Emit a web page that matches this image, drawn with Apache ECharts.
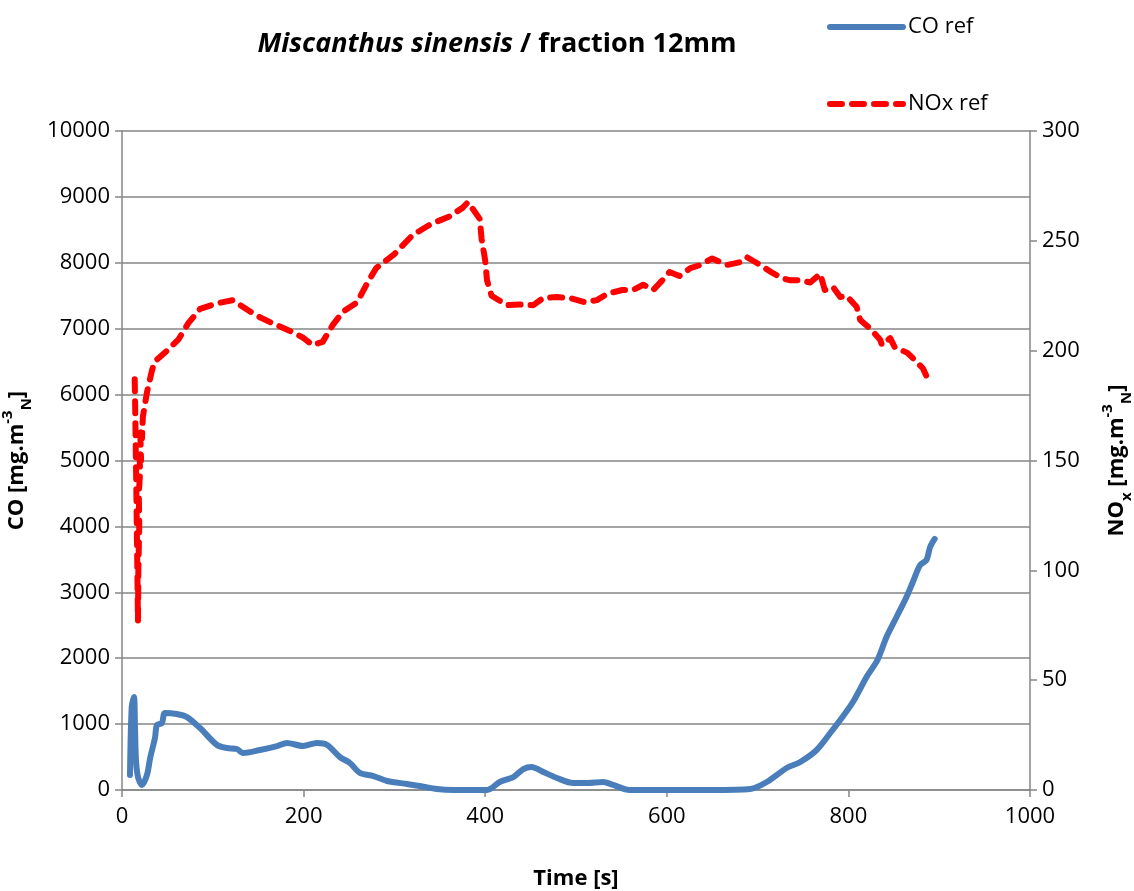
<!DOCTYPE html>
<html>
<head>
<meta charset="utf-8">
<script src="https://cdn.jsdelivr.net/npm/echarts@6/dist/echarts.min.js"></script>
<style>
  html, body { margin: 0; padding: 0; background: #fff; }
  #chart { width: 1134px; height: 891px; }
</style>
</head>
<body>
<div id="chart"></div>
<script>
// CO ref (left axis)
const coTime = [8.8, 10.7, 13.2, 14.3, 15.4, 17.6, 22, 27.5, 31, 36.3, 38.5, 44, 47.3, 60, 71.5, 86, 104.6, 115.6, 126.6, 133, 152, 170.7, 181.7, 199.3, 215, 226, 240, 251, 262, 277, 292, 314, 328, 347, 365, 402, 416, 431, 442, 451, 464, 479, 497, 512, 530, 541, 559, 600, 650, 692, 710, 732, 747, 765, 780, 791, 805, 820, 832, 842, 853, 864, 871, 879, 886, 890, 895]
const coValues = [228, 1260, 1410, 960, 455, 198, 76, 228, 485, 789, 985, 1015, 1168, 1153, 1107, 940, 683, 637, 622, 561, 607, 667, 713, 668, 713, 683, 500, 410, 258, 212, 137, 91, 61, 15, 0, 0, 121, 197, 318, 349, 273, 182, 106, 106, 121, 76, 0, 0, 0, 15, 121, 334, 425, 607, 865, 1062, 1335, 1715, 1973, 2322, 2625, 2929, 3156, 3414, 3490, 3687, 3809]

// NOx ref (right axis)
const noxTime = [14, 14.5, 15, 16, 17.6, 18, 19, 18.5, 20, 19, 21, 20, 22, 23, 27.5, 33, 36, 47, 62, 73, 86, 104, 122, 133, 148, 163, 185, 199, 210, 221, 232, 243, 259, 270, 280, 300, 320, 340, 360, 375, 381, 394, 396, 400, 402, 407, 424, 438, 453, 464, 479, 493, 510, 523, 535, 551, 563, 574, 585, 595, 603, 614, 626, 637, 650, 666, 681, 688, 703, 714, 727, 736, 749, 758, 769, 774, 783, 791, 798, 809, 813, 824, 835, 837, 846, 851, 865, 871, 882, 888, 893]
const noxValues = [187, 175, 160, 130, 77, 100, 120, 135, 145, 155, 150, 165, 160, 170, 181, 191, 195, 199, 205, 212.5, 219, 221.5, 223, 220, 216, 213, 209, 206, 202.5, 204, 211.6, 217.6, 222, 230.7, 237.6, 244, 252.6, 257.6, 261, 265, 267.6, 260, 251, 241, 232, 225, 220.7, 221, 220.7, 224, 224.4, 224, 222, 223, 226, 227.6, 227.6, 230, 227.6, 232, 235.8, 234, 237.6, 239, 242, 239, 240.3, 242.6, 239, 236, 233, 232, 232, 231, 235, 227.6, 229, 224.4, 225, 220, 214, 210, 205, 202.5, 205.7, 201.6, 199, 196.6, 192, 186.6, 187]

const font = 'Open Sans'
const gray = '#868686'
const plain = (v) => String(v)

let myChart = echarts.init(document.getElementById('chart'))
myChart.setOption({
  backgroundColor: '#fff',
  animation: false,
  title: {
    text: '{i|Miscanthus sinensis}{b| / fraction 12mm}',
    left: 492,
    textAlign: 'center',
    top: 26,
    textStyle: {
      rich: {
        i: { fontFamily: font, fontSize: 27, fontWeight: 'bold', fontStyle: 'italic', color: '#000' },
        b: { fontFamily: font, fontSize: 27, fontWeight: 'bold', color: '#000' }
      }
    }
  },
  legend: {
    orient: 'vertical',
    left: 822,
    top: 11,
    itemWidth: 73,
    itemHeight: 14,
    itemGap: 55,
    itemStyle: { opacity: 0 },
    lineStyle: { width: 6 },
    textStyle: { fontFamily: font, fontSize: 22, color: '#000' },
    data: ['CO ref', 'NOx ref']
  },
  grid: {
    left: 122,
    right: 104,
    top: 131,
    bottom: 101,
    containLabel: false,
    outerBoundsMode: 'none'
  },
  xAxis: {
    type: 'value',
    min: 0,
    max: 1000,
    interval: 200,
    name: 'Time [s]',
    nameLocation: 'middle',
    nameGap: 78,
    nameTextStyle: { fontFamily: font, fontSize: 22, fontWeight: 'bold', color: '#000' },
    axisLine: { show: true, lineStyle: { color: gray, width: 1.5 } },
    axisTick: { show: true, length: 7, lineStyle: { color: gray, width: 1.5 } },
    axisLabel: { fontFamily: font, fontSize: 22, color: '#000', margin: 16, formatter: plain },
    splitLine: { show: false }
  },
  yAxis: [{
    type: 'value',
    min: 0,
    max: 10000,
    interval: 1000,
    position: 'left',
    name: '{a|CO [mg.m}{sup|-3}{sub|N}{a|]}',
    nameLocation: 'middle',
    nameRotate: 90,
    nameGap: 88,
    nameTextStyle: {
      rich: {
        a: { fontFamily: font, fontSize: 22, fontWeight: 'bold', color: '#000', lineHeight: 34 },
        sup: { fontFamily: font, fontSize: 15, fontWeight: 'bold', color: '#000', verticalAlign: 'top', lineHeight: 34 },
        sub: { fontFamily: font, fontSize: 15, fontWeight: 'bold', color: '#000', verticalAlign: 'bottom', lineHeight: 34 }
      }
    },
    axisLine: { show: true, lineStyle: { color: gray, width: 1.5 } },
    axisTick: { show: true, length: 7, lineStyle: { color: gray, width: 1.5 } },
    axisLabel: { fontFamily: font, fontSize: 22, color: '#000', margin: 12, formatter: plain },
    splitLine: { show: true, lineStyle: { color: gray, width: 1.5 } }
  }, {
    type: 'value',
    min: 0,
    max: 300,
    interval: 50,
    position: 'right',
    name: '{a|NO}{x|x}{a| [mg.m}{sup|-3}{sub|N}{a|]}',
    nameLocation: 'middle',
    nameRotate: 90,
    nameGap: 70,
    nameTextStyle: {
      rich: {
        a: { fontFamily: font, fontSize: 22, fontWeight: 'bold', color: '#000', lineHeight: 34 },
        x: { fontFamily: font, fontSize: 15, fontWeight: 'bold', color: '#000', verticalAlign: 'bottom', lineHeight: 34 },
        sup: { fontFamily: font, fontSize: 15, fontWeight: 'bold', color: '#000', verticalAlign: 'top', lineHeight: 34 },
        sub: { fontFamily: font, fontSize: 15, fontWeight: 'bold', color: '#000', verticalAlign: 'bottom', lineHeight: 34 }
      }
    },
    axisLine: { show: true, lineStyle: { color: gray, width: 1.5 } },
    axisTick: { show: true, length: 7, lineStyle: { color: gray, width: 1.5 } },
    axisLabel: { fontFamily: font, fontSize: 22, color: '#000', margin: 12, formatter: plain },
    splitLine: { show: false }
  }],
  series: [{
    name: 'CO ref',
    type: 'line',
    yAxisIndex: 0,
    showSymbol: false,
    symbol: 'none',
    smooth: 0.3,
    data: coTime.map((t, i) => [t, coValues[i]]),
    lineStyle: { color: '#4a7ebb', width: 6, cap: 'round', join: 'round' },
    itemStyle: { color: '#4a7ebb' }
  }, {
    name: 'NOx ref',
    type: 'line',
    yAxisIndex: 1,
    showSymbol: false,
    symbol: 'none',
    data: noxTime.map((t, i) => [t, noxValues[i]]),
    lineStyle: { color: '#ff0000', width: 6, type: [12, 10], cap: 'round', join: 'round' },
    itemStyle: { color: '#ff0000' }
  }]
})
</script>
</body>
</html>
